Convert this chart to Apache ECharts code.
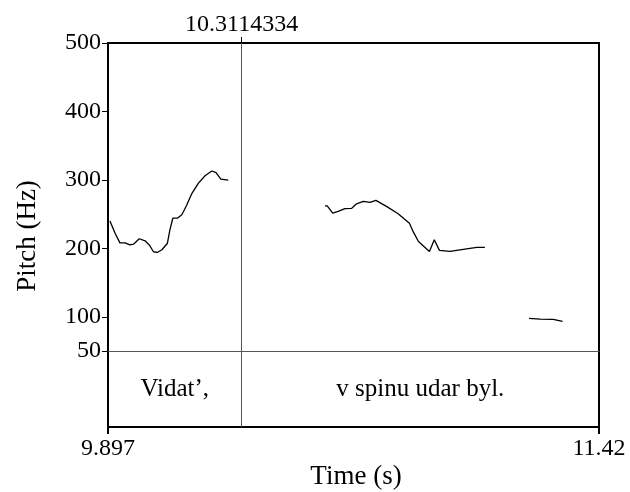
<!DOCTYPE html>
<html>
<head>
<meta charset="utf-8">
<script src="https://cdn.jsdelivr.net/npm/echarts@6/dist/echarts.min.js"></script>
<style>html,body{margin:0;padding:0;background:#fff;}#c{width:630px;height:492px;}</style>
</head>
<body>
<div id="c"></div>
<script>
const tMin = 9.897, tMax = 11.42;
const boundary = 10.3114334;
const pitchTicks = [50, 100, 200, 300, 400, 500];
const timeTicks = [9.897, 11.42];
const intervalLabels = ["Vidat’,", "v spinu udar byl."];
const intervalCenters = [(9.897 + 10.3114334) / 2, (10.3114334 + 11.42) / 2];

const seg1Time = [9.903, 9.919, 9.934, 9.950, 9.965, 9.976, 9.994, 10.012, 10.025, 10.038, 10.050, 10.064, 10.081, 10.089, 10.098, 10.112, 10.126, 10.141, 10.157, 10.177, 10.198, 10.219, 10.232, 10.247, 10.270];
const seg1Pitch = [240, 222, 208, 208, 205, 206, 214, 211, 205, 195, 194, 198, 207, 227, 244, 244, 249, 263, 280, 295, 306, 313, 310.5, 301, 299.5];
const seg2Time = [10.570, 10.577, 10.594, 10.611, 10.632, 10.653, 10.668, 10.689, 10.710, 10.728, 10.762, 10.797, 10.832, 10.844, 10.860, 10.894, 10.909, 10.925, 10.958, 10.999, 11.041, 11.066];
const seg2Pitch = [262, 262, 251.5, 254, 258, 258.5, 265, 268.5, 267, 270, 261, 250.5, 236.5, 224, 210, 195.5, 212.5, 197, 195.5, 198.5, 201.5, 201.5];
const seg3Time = [11.203, 11.237, 11.278, 11.307];
const seg3Pitch = [97.7, 96.7, 96.2, 93.3];

const zip = (a, b) => a.map((v, i) => [v, b[i]]);
const font = "Liberation Serif";
const fs = 24;
const thick = { show: true, lineStyle: { color: '#000', width: 2 } };
const none = { show: false };

const chart = echarts.init(document.getElementById('c'));
chart.setOption({
  animation: false,
  backgroundColor: '#fff',
  grid: [
    { left: 108, top: 43, width: 491, height: 308 },
    { left: 108, top: 351, width: 491, height: 76 }
  ],
  xAxis: [
    { gridIndex: 0, type: 'value', min: tMin, max: tMax, position: 'bottom',
      axisLine: { show: true, lineStyle: { color: '#555', width: 1 } },
      axisTick: none, axisLabel: none, splitLine: none },
    { gridIndex: 0, type: 'value', min: tMin, max: tMax, position: 'top',
      axisLine: thick,
      axisTick: { show: true, customValues: [boundary], length: 6, inside: false, lineStyle: { color: '#000', width: 1 } },
      axisLabel: { show: true, customValues: [boundary], formatter: () => '10.3114334', fontFamily: font, fontSize: fs, color: '#000', margin: 6 },
      splitLine: none },
    { gridIndex: 1, type: 'value', min: tMin, max: tMax, position: 'bottom',
      axisLine: thick,
      axisTick: { show: true, customValues: timeTicks, length: 7, lineStyle: { color: '#000', width: 2 } },
      axisLabel: { show: true, customValues: timeTicks, formatter: v => (Math.abs(v - 9.897) < 1e-6 ? '9.897' : '11.42'), fontFamily: font, fontSize: fs, color: '#000', margin: 10 },
      splitLine: none }
  ],
  yAxis: [
    { gridIndex: 0, type: 'value', min: 50, max: 500, position: 'left',
      axisLine: thick,
      axisTick: { show: true, customValues: pitchTicks, length: 6, lineStyle: { color: '#000', width: 1 } },
      axisLabel: { show: true, customValues: pitchTicks, fontFamily: font, fontSize: fs, color: '#000', margin: 7 },
      splitLine: none },
    { gridIndex: 0, type: 'value', min: 50, max: 500, position: 'right',
      axisLine: thick, axisTick: none, axisLabel: none, splitLine: none },
    { gridIndex: 1, type: 'value', min: 0, max: 1, position: 'left',
      axisLine: thick, axisTick: none, axisLabel: none, splitLine: none },
    { gridIndex: 1, type: 'value', min: 0, max: 1, position: 'right',
      axisLine: thick, axisTick: none, axisLabel: none, splitLine: none }
  ],
  series: [
    { type: 'line', xAxisIndex: 0, yAxisIndex: 0, data: zip(seg1Time, seg1Pitch), symbol: 'none',
      lineStyle: { color: '#000', width: 1.3 },
      markLine: { silent: true, symbol: 'none', label: { show: false },
        lineStyle: { color: '#555', width: 1, type: 'solid' }, data: [{ xAxis: boundary }] } },
    { type: 'line', xAxisIndex: 0, yAxisIndex: 0, data: zip(seg2Time, seg2Pitch), symbol: 'none',
      lineStyle: { color: '#000', width: 1.3 } },
    { type: 'line', xAxisIndex: 0, yAxisIndex: 0, data: zip(seg3Time, seg3Pitch), symbol: 'none',
      lineStyle: { color: '#000', width: 1.3 } },
    { type: 'scatter', xAxisIndex: 2, yAxisIndex: 2, symbolSize: 0,
      itemStyle: { opacity: 1, color: '#000' },
      data: intervalCenters.map((c, i) => ({ value: [c, 0.5], name: intervalLabels[i] })),
      label: { show: true, position: 'inside', formatter: p => p.name, fontFamily: font, fontSize: 25, color: '#000', opacity: 1, textBorderWidth: 0, textBorderColor: 'transparent' },
      markLine: { silent: true, symbol: 'none', label: { show: false },
        lineStyle: { color: '#555', width: 1, type: 'solid' }, data: [{ xAxis: boundary }] } }
  ],
  graphic: [
    { type: 'text', x: 28, y: 236, rotation: Math.PI / 2, style: { text: 'Pitch (Hz)', font: '27px "Liberation Serif"', fill: '#000', align: 'center', verticalAlign: 'middle' } },
    { type: 'text', x: 356, y: 477, style: { text: 'Time (s)', font: '27px "Liberation Serif"', fill: '#000', align: 'center', verticalAlign: 'middle' } }
  ]
});
</script>
</body>
</html>
